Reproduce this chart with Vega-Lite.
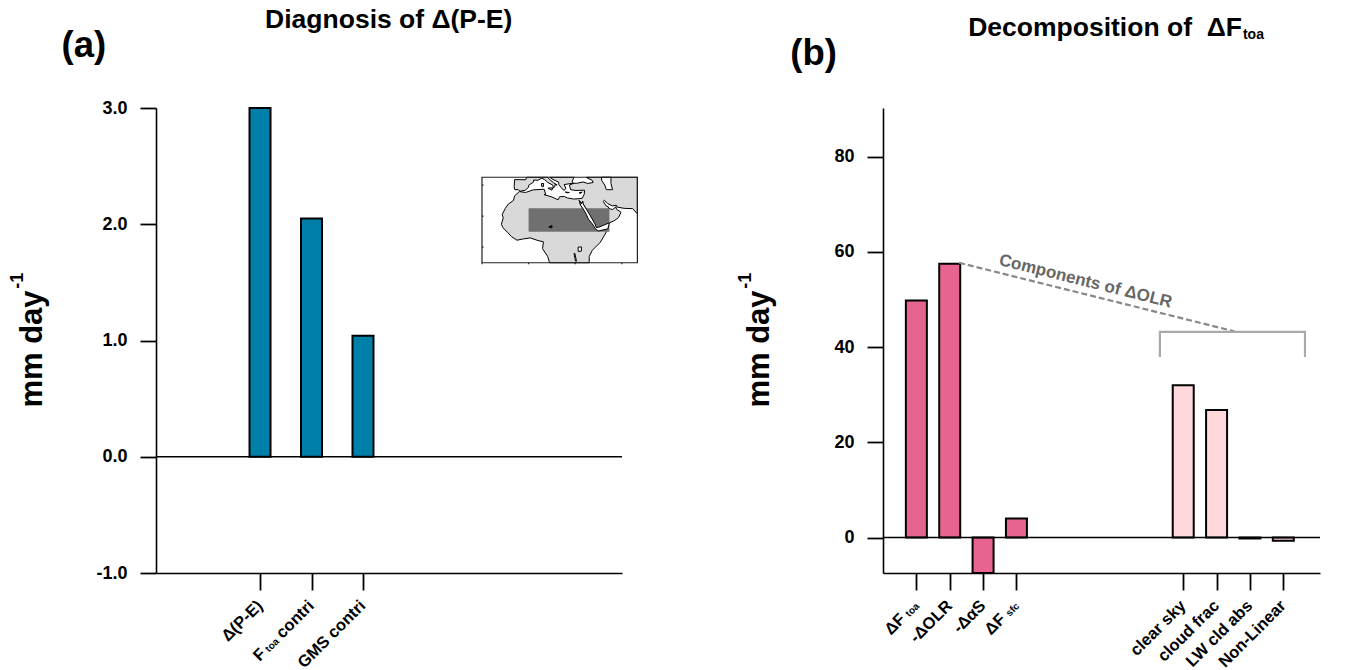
{
"$schema":"https://vega.github.io/schema/vega-lite/v6.json",
"autosize":{"type":"none"},
"padding":{"left":156,"top":108,"right":1201,"bottom":562},
"background":"white",
"bounds":"flush",
"spacing":261,
"config":{"view":{"stroke":null},"font":"Liberation Sans",
 "axis":{"grid":false,"domainColor":"black","domainWidth":1.6,"tickColor":"black","tickWidth":1.8,"tickSize":16,"labelFont":"Liberation Sans","labelFontWeight":"bold","labelFontSize":18,"labelColor":"black","labelPadding":13,"titleFont":"Liberation Sans","titleFontWeight":"bold","titleFontSize":31,"titleColor":"black"}},
"datasets":{
 "a_bars":[{"pos":1,"value":3.0,"label":"Δ(P-E)"},{"pos":2,"value":2.05,"label":"F toa contri"},{"pos":3,"value":1.04,"label":"GMS contri"}],
 "b_bars":[{"pos":1,"value":49.8,"group":"main"},{"pos":2,"value":57.5,"group":"main"},{"pos":3,"value":-7.45,"group":"main"},{"pos":4,"value":4,"group":"main"},{"pos":9,"value":32,"group":"olr"},{"pos":10,"value":26.8,"group":"olr"},{"pos":11,"value":-0.2,"group":"olr"},{"pos":12,"value":-0.7,"group":"olr"}]
},
"hconcat":[
{"width":466,"height":465,
 "layer":[
  {"data":{"values":[{"type":"Feature","properties":{"name":"land"},"geometry":{"type":"MultiPolygon","coordinates":[
   [[[-1.3,45],[-1.8,43.4],[-9,43.5],[-9.3,39],[-8.9,37],[-6.5,37],[-5.5,36],[-2,36.7],[0,38.7],[0,39.8],[3.2,41.9],[3.2,43.2],[6,43.1],[8.5,44.4],[10.3,43.5],[12.3,41.7],[15.5,40],[16,38],[16.8,39],[16.9,40.2],[18.4,40],[15.9,41.6],[13.5,43.6],[12.3,44.8],[12.3,45],[-1.3,45]]],
   [[[13.6,45],[15,44],[17,43],[19.4,41.8],[19.4,40.4],[21,38.3],[22.8,36.5],[24,38],[22.9,40.3],[26,40.8],[29,41.2],[28,42],[28.7,44],[29.5,45],[13.6,45]]],
   [[[26.3,40],[29,41.1],[31.5,41.2],[35,42],[38,41],[41.5,41.6],[41,43],[37.5,44.7],[37,45],[70,45],[70,21.5],[67,24.8],[61.5,25],[57,25.8],[56.5,27],[54,26.6],[51,28],[48.8,30.2],[48,29.5],[50,26.5],[51.3,26],[51.5,25],[54,24.2],[56.2,26],[56.5,24.5],[59.5,22.5],[57.8,19],[55,17],[52,15.7],[45,12.8],[43.5,12.7],[42.7,15],[39,21.5],[35,28],[34.8,29.5],[34,28],[32.6,30],[33.5,27],[35.5,24],[37.2,21],[38.5,18],[41,15],[43.2,11.5],[45,10.5],[51,11.8],[49,8],[46,3],[41,-2],[39,-6],[39,-10],[13.5,-10],[12.3,-6],[9,-1],[9.5,3.5],[6,4.3],[1,6],[-4,5.2],[-7.5,4.5],[-11,6.8],[-13.5,9.5],[-16.5,12.5],[-17.5,14.7],[-16.3,19],[-17,21],[-15,25],[-13,27.8],[-9.8,30],[-9,33],[-6,35.8],[-2,35.2],[3,36.9],[10,37.3],[11,34],[10,33.8],[15,32.3],[19,30.5],[20,32.5],[23,32.6],[25,31.7],[29,31],[32.5,31.2],[34.5,31.5],[35.8,34],[36,36.7],[30.5,36.5],[27,37],[26.3,40]]],
   [[[12.5,38],[15.5,38.2],[15,36.7],[12.5,38]]],
   [[[8.3,41],[9.7,41],[9.5,39],[8.5,39],[8.3,41]]],
   [[[32.5,35],[34.5,35.5],[33.5,34.6],[32.5,35]]],
   [[[23.6,35.5],[26.2,35.2],[24.5,35],[23.6,35.5]]]
  ]}}]},
   "mark":{"type":"geoshape","clip":false,"fill":"#d9d9d9","stroke":"black","strokeWidth":1},
   "projection":{"type":"identity","reflectY":true,"scale":1.554,"translate":[372.6,139.2]}},
  {"data":{"values":[{"type":"Feature","properties":{"name":"study region"},"geometry":{"type":"Polygon","coordinates":[[[0,10],[52,10],[52,25],[0,25],[0,10]]]}}]},
   "mark":{"type":"geoshape","clip":false,"fill":"#707070","stroke":null},
   "projection":{"type":"identity","reflectY":true,"scale":1.554,"translate":[372.6,139.2]}},
  {"data":{"values":[{"type":"Feature","properties":{"name":"water"},"geometry":{"type":"MultiPolygon","coordinates":[
   [[[34.8,29.5],[35,28],[39,21.5],[42.7,15],[43.5,12.7],[45,12.8],[52,15.7],[51,11.8],[45,10.5],[43.2,11.5],[41,15],[38.5,18],[37.2,21],[35.5,24],[33.5,27],[32.6,30],[34,28],[34.8,29.5]]],
   [[[31.8,0],[34,0.2],[34,-2.5],[32,-2.8],[31.8,0]]],
   [[[29.2,-4],[29.8,-4],[30.8,-9],[30.2,-9],[29.2,-4]]],
   [[[47,45],[53,45],[53,41],[54,37],[50,37],[49,40],[47,43],[47,45]]]
  ]}}]},
   "mark":{"type":"geoshape","clip":false,"fill":"white","stroke":"black","strokeWidth":1},
   "projection":{"type":"identity","reflectY":true,"scale":1.554,"translate":[372.6,139.2]}},
  {"data":{"values":[{"type":"Feature","properties":{"name":"Lake Chad"},"geometry":{"type":"Polygon","coordinates":[[[13,13],[15,14],[15,12.5],[13,13]]]}}]},
   "mark":{"type":"geoshape","clip":false,"fill":"black","stroke":"black","strokeWidth":1},
   "projection":{"type":"identity","reflectY":true,"scale":1.554,"translate":[372.6,139.2]}},
  {"data":{"values":[{"type":"Feature","properties":{"name":"frame"},"geometry":{"type":"MultiLineString","coordinates":[[[-30,-10],[70,-10],[70,45],[-30,45],[-30,-10]],[[-30,-10],[-30,-11]],[[0,-10],[0,-11]],[[30,-10],[30,-11]],[[60,-10],[60,-11]],[[-30,0],[-29,0]],[[-30,20],[-29,20]],[[-30,40],[-29,40]]]}}]},
   "mark":{"type":"geoshape","clip":false,"fill":null,"filled":false,"stroke":"#222222","strokeWidth":1.2},
   "projection":{"type":"identity","reflectY":true,"scale":1.554,"translate":[372.6,139.2]}},
  {"data":{"name":"a_bars"},
   "mark":{"type":"bar","orient":"vertical","width":21,"fill":"#0080a8","stroke":"black","strokeWidth":2},
   "encoding":{
    "x":{"field":"pos","type":"quantitative","scale":{"domain":[-1.02,8.03],"nice":false,"zero":false,"padding":0},
     "axis":{"values":[1,2,3],"labels":false,"title":null,"tickSize":17}},
    "y":{"field":"value","type":"quantitative","scale":{"domain":[-1,3],"nice":false,"zero":false},
     "axis":{"values":[-1,0,1,2,3],"format":".1f","labelExpr":"replace(datum.label,'−','-')","title":"mm day","titleX":-114.5,"titleY":240.5,"titleAngle":-90,"titleBaseline":"alphabetic","titleAlign":"center"}}}},
  {"data":{"values":[{"zero":0}]},"mark":{"type":"rule","color":"black","strokeWidth":1.4},"encoding":{"y":{"field":"zero","type":"quantitative"}}},
  {"data":{"values":[{"px":-3.7,"py":1.514,"t":"-1"}]},
   "mark":{"type":"text","angle":270,"align":"center","baseline":"middle","font":"Liberation Sans","fontWeight":"bold","fontSize":18,"color":"black"},
   "encoding":{"x":{"field":"px","type":"quantitative"},"y":{"field":"py","type":"quantitative"},"text":{"field":"t"}}},
  {"data":{"values":[{"pos":1,"t":"Δ(P-E)"},{"pos":2,"t":"contri"},{"pos":3,"t":"GMS contri"}]},
   "mark":{"type":"text","angle":315,"align":"right","baseline":"middle","font":"Liberation Sans","fontWeight":"bold","fontSize":16.5,"color":"black"},
   "encoding":{"x":{"field":"pos","type":"quantitative"},"y":{"datum":-1.26},"text":{"field":"t"}}},
  {"data":{"values":[{"pos":2,"t":"toa"}]},
   "mark":{"type":"text","angle":315,"align":"right","baseline":"middle","dx":-50,"dy":2,"font":"Liberation Sans","fontWeight":"bold","fontSize":10,"color":"black"},
   "encoding":{"x":{"field":"pos","type":"quantitative"},"y":{"datum":-1.26},"text":{"field":"t"}}},
  {"data":{"values":[{"pos":2,"t":"F"}]},
   "mark":{"type":"text","angle":315,"align":"right","baseline":"middle","dx":-68,"font":"Liberation Sans","fontWeight":"bold","fontSize":16.5,"color":"black"},
   "encoding":{"x":{"field":"pos","type":"quantitative"},"y":{"datum":-1.26},"text":{"field":"t"}}},
  {"data":{"values":[{"px":3.5,"py":3.76,"t":"Diagnosis of Δ(P-E)"}]},
   "mark":{"type":"text","align":"center","baseline":"middle","font":"Liberation Sans","fontWeight":"bold","fontSize":26.5,"color":"black"},
   "encoding":{"x":{"field":"px","type":"quantitative"},"y":{"field":"py","type":"quantitative"},"text":{"field":"t"}}},
  {"data":{"values":[{"px":-2.42,"py":3.535,"t":"(a)"}]},
   "mark":{"type":"text","align":"center","baseline":"middle","font":"Liberation Sans","fontWeight":"bold","fontSize":36.5,"color":"black"},
   "encoding":{"x":{"field":"px","type":"quantitative"},"y":{"field":"py","type":"quantitative"},"text":{"field":"t"}}}
 ]},
{"width":437,"height":465,
 "layer":[
  {"data":{"name":"b_bars"},
   "mark":{"type":"bar","orient":"vertical","width":21,"stroke":"black","strokeWidth":2},
   "encoding":{
    "x":{"field":"pos","type":"quantitative","scale":{"domain":[0,13.1],"nice":false,"zero":false,"padding":0},
     "axis":{"values":[1,2,3,4,9,10,11,12],"labels":false,"title":null,"tickSize":17}},
    "y":{"field":"value","type":"quantitative","scale":{"domain":[-7.45,90.2],"nice":false,"zero":false},
     "axis":{"values":[0,20,40,60,80],"format":"d","title":"mm day","titleX":-114.5,"titleY":240.5,"titleAngle":-90,"titleBaseline":"alphabetic","titleAlign":"center"}},
    "fill":{"field":"group","type":"nominal","scale":{"domain":["main","olr"],"range":["#e86490","#ffd8dc"]},"legend":null}}},
  {"data":{"values":[{"zero":0}]},"mark":{"type":"rule","color":"black","strokeWidth":1.4},"encoding":{"y":{"field":"zero","type":"quantitative"}}},
  {"data":{"values":[{"px":-4.107,"py":53.9,"t":"-1"}]},
   "mark":{"type":"text","angle":270,"align":"center","baseline":"middle","font":"Liberation Sans","fontWeight":"bold","fontSize":18,"color":"black"},
   "encoding":{"x":{"field":"px","type":"quantitative"},"y":{"field":"py","type":"quantitative"},"text":{"field":"t"}}},
  {"data":{"values":[{"px":2.28,"py":57.7},{"px":10.53,"py":43.3}]},
   "mark":{"type":"line","color":"#888888","strokeWidth":2.2,"strokeDash":[6,3]},
   "encoding":{"x":{"field":"px","type":"quantitative"},"y":{"field":"py","type":"quantitative"}}},
  {"data":{"values":[{"px":8.3,"py":37.9,"o":1},{"px":8.3,"py":43.2,"o":2},{"px":12.65,"py":43.2,"o":3},{"px":12.65,"py":37.9,"o":4}]},
   "mark":{"type":"line","color":"#a9a9a9","strokeWidth":2.2},
   "encoding":{"x":{"field":"px","type":"quantitative"},"y":{"field":"py","type":"quantitative"},"order":{"field":"o"}}},
  {"data":{"values":[{"px":6.07,"py":53.8,"t":"Components of ΔOLR"}]},
   "mark":{"type":"text","angle":14,"align":"center","baseline":"middle","font":"Liberation Sans","fontWeight":"bold","fontSize":17,"color":"#666666"},
   "encoding":{"x":{"field":"px","type":"quantitative"},"y":{"field":"py","type":"quantitative"},"text":{"field":"t"}}},
  {"data":{"values":[{"pos":2,"t":"-ΔOLR"},{"pos":3,"t":"-ΔαS"},{"pos":9,"t":"clear sky"},{"pos":10,"t":"cloud frac"},{"pos":11,"t":"LW cld abs"},{"pos":12,"t":"Non-Linear"}]},
   "mark":{"type":"text","angle":315,"align":"right","baseline":"middle","font":"Liberation Sans","fontWeight":"bold","fontSize":16.5,"color":"black"},
   "encoding":{"x":{"field":"pos","type":"quantitative"},"y":{"datum":-13.8},"text":{"field":"t"}}},
  {"data":{"values":[{"pos":1,"t":"toa"},{"pos":4,"t":"sfc"}]},
   "mark":{"type":"text","angle":315,"align":"right","baseline":"middle","dy":2,"font":"Liberation Sans","fontWeight":"bold","fontSize":10,"color":"black"},
   "encoding":{"x":{"field":"pos","type":"quantitative"},"y":{"datum":-13.8},"text":{"field":"t"}}},
  {"data":{"values":[{"pos":1,"t":"ΔF"},{"pos":4,"t":"ΔF"}]},
   "mark":{"type":"text","angle":315,"align":"right","baseline":"middle","dx":-19,"font":"Liberation Sans","fontWeight":"bold","fontSize":16.5,"color":"black"},
   "encoding":{"x":{"field":"pos","type":"quantitative"},"y":{"datum":-13.8},"text":{"field":"t"}}},
  {"data":{"values":[{"px":10.76,"py":106.9,"t":"Decomposition of\u00a0 ΔF"}]},
   "mark":{"type":"text","align":"right","baseline":"middle","font":"Liberation Sans","fontWeight":"bold","fontSize":26.5,"color":"black"},
   "encoding":{"x":{"field":"px","type":"quantitative"},"y":{"field":"py","type":"quantitative"},"text":{"field":"t"}}},
  {"data":{"values":[{"px":10.79,"py":105.5,"t":"toa"}]},
   "mark":{"type":"text","align":"left","baseline":"middle","font":"Liberation Sans","fontWeight":"bold","fontSize":14,"color":"black"},
   "encoding":{"x":{"field":"px","type":"quantitative"},"y":{"field":"py","type":"quantitative"},"text":{"field":"t"}}},
  {"data":{"values":[{"px":-2.08,"py":101.6,"t":"(b)"}]},
   "mark":{"type":"text","align":"center","baseline":"middle","font":"Liberation Sans","fontWeight":"bold","fontSize":36.5,"color":"black"},
   "encoding":{"x":{"field":"px","type":"quantitative"},"y":{"field":"py","type":"quantitative"},"text":{"field":"t"}}}
 ]}
]
}
